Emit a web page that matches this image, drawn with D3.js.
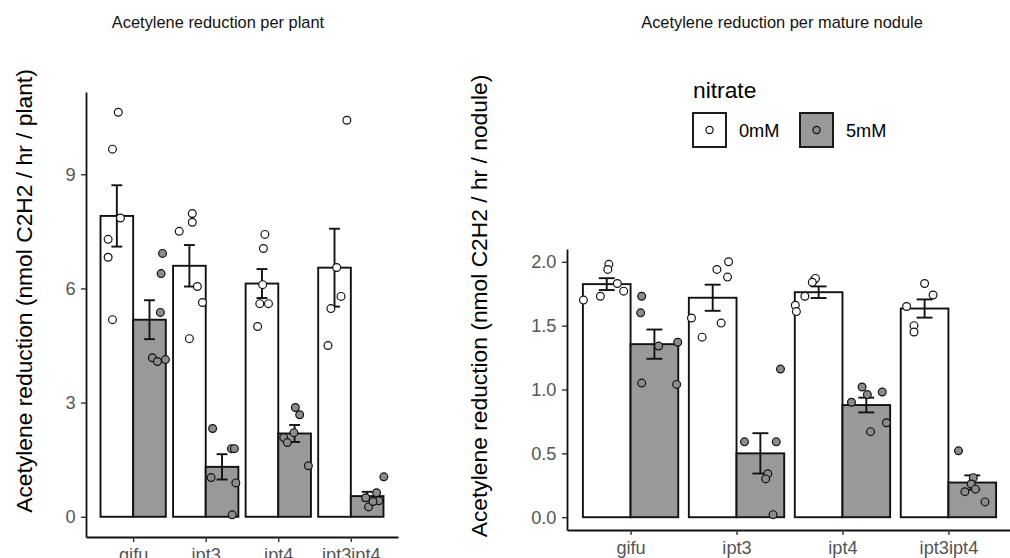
<!DOCTYPE html>
<html>
<head>
<meta charset="utf-8">
<script src="https://cdn.jsdelivr.net/npm/d3@7/dist/d3.min.js"></script>
<style>
  body { margin: 0; background: #fff; }
  text { font-family: "Liberation Sans", Arial, sans-serif; }
</style>
</head>
<body>
<div id="my_dataviz"></div>
<script>
// categories
var genotypes = ["gifu", "ipt3", "ipt4", "ipt3ipt4"];
var nitrate = ["0mM", "5mM"];

// acetylene reduction per plant, one list per genotype
var plant0mM = [
  [10.63, 9.66, 7.85, 7.29, 6.82, 5.18],
  [7.5, 7.97, 7.74, 6.05, 5.63, 4.68],
  [7.42, 7.05, 6.1, 5.6, 5.6, 5.0],
  [10.42, 6.55, 5.79, 5.47, 4.5]
];
var plant5mM = [
  [6.92, 6.39, 5.37, 4.18, 4.08, 4.13],
  [2.32, 1.79, 1.79, 1.03, 0.89, 0.05],
  [2.87, 2.68, 2.08, 1.95, 2.21, 1.34],
  [1.05, 0.63, 0.5, 0.42, 0.26, 0.4]
];
// horizontal jitter of each point, in category units
var plantJitter0mM = [
  [0.02, -0.06, 0.05, -0.12, -0.12, -0.06],
  [-0.14, 0.04, 0.04, 0.11, 0.18, 0],
  [0.04, 0.02, 0.01, -0.03, 0.09, -0.06],
  [0.17, 0.03, 0.09, -0.05, -0.09]
];
var plantJitter5mM = [
  [0.18, 0.16, 0.15, 0.04, 0.11, 0.22],
  [-0.13, 0.13, 0.17, -0.15, 0.19, 0.14],
  [0.01, 0.07, -0.15, -0.10, -0.01, 0.19],
  [0.23, 0.13, -0.02, 0.16, 0.02, 0.08]
];

// acetylene reduction per mature nodule
var nodule0mM = [
  [1.98, 1.94, 1.70, 1.73, 1.83, 1.77],
  [1.94, 2.0, 1.88, 1.56, 1.41, 1.52],
  [1.86, 1.87, 1.84, 1.73, 1.66, 1.61],
  [1.83, 1.74, 1.65, 1.5, 1.45]
];
var nodule5mM = [
  [1.73, 1.6, 1.34, 1.37, 1.05, 1.04],
  [1.16, 0.59, 0.59, 0.34, 0.3, 0.02],
  [1.02, 0.96, 0.98, 0.9, 0.74, 0.67],
  [0.52, 0.31, 0.26, 0.2, 0.22, 0.12]
];
var noduleJitter0mM = [
  [0.02, 0.01, -0.22, -0.06, 0.10, 0.16],
  [0.04, 0.15, 0.14, -0.20, -0.10, 0.08],
  [-0.04, -0.03, -0.06, -0.13, -0.22, -0.21],
  [0, 0.08, -0.17, -0.10, -0.10]
];
var noduleJitter5mM = [
  [-0.12, -0.13, 0.04, 0.22, -0.12, 0.21],
  [0.19, -0.15, 0.15, 0.07, 0.05, 0.12],
  [-0.04, 0.01, 0.15, -0.14, 0.19, 0.04],
  [-0.13, 0.01, -0.01, -0.07, 0.03, 0.12]
];

// tick labels
var plantTicks = [0, 3, 6, 9];
var noduleTicks = [0, 0.5, 1.0, 1.5, 2.0];

var barFill = d3.scaleOrdinal().domain(nitrate).range(["#ffffff", "#999999"]);
var pointFill = d3.scaleOrdinal().domain(nitrate).range(["#ffffff", "#8c8c8c"]);

var svg = d3.select("#my_dataviz")
  .append("svg")
  .attr("width", 1010)
  .attr("height", 558);

function drawPanel(p) {
  var g = svg.append("g");

  var x = d3.scalePoint()
    .domain(genotypes)
    .range(p.xRange)
    .padding(p.pad);
  var step = x.step();

  // dodge 0.9 wide, two bars
  var dodge = d3.scaleBand()
    .domain(nitrate)
    .range([-0.45 * step, 0.45 * step]);

  var rows = [];
  nitrate.forEach(function(n, ni) {
    genotypes.forEach(function(gt, gi) {
      var v = p.values[ni][gi];
      rows.push({
        geno: gt, nit: n, vals: v, jit: p.jitter[ni][gi],
        mean: d3.mean(v),
        se: d3.deviation(v) / Math.sqrt(v.length)
      });
    });
  });

  var ymax = d3.max(rows, function(d) { return d3.max(d.vals); });
  var y = d3.scaleLinear()
    .domain([-0.05 * ymax, 1.05 * ymax])
    .range(p.yRange);

  function cx(d) { return x(d.geno) + dodge(d.nit) + dodge.bandwidth() / 2; }

  // bars
  g.selectAll("rect.bar")
    .data(rows)
    .enter()
    .append("rect")
      .attr("class", "bar")
      .attr("x", function(d) { return x(d.geno) + dodge(d.nit); })
      .attr("width", dodge.bandwidth())
      .attr("y", function(d) { return y(d.mean); })
      .attr("height", function(d) { return y(0) - y(d.mean); })
      .attr("fill", function(d) { return barFill(d.nit); })
      .attr("stroke", "#111")
      .attr("stroke-width", 1.9);

  // error bars (mean +/- se)
  var capHalf = 0.075 * step;
  var eb = g.selectAll("g.eb")
    .data(rows)
    .enter()
    .append("g")
      .attr("class", "eb")
      .attr("stroke", "#111")
      .attr("stroke-width", 1.9);
  eb.append("line")
    .attr("x1", cx).attr("x2", cx)
    .attr("y1", function(d) { return y(d.mean + d.se); })
    .attr("y2", function(d) { return y(d.mean - d.se); });
  eb.append("line")
    .attr("x1", function(d) { return cx(d) - capHalf; })
    .attr("x2", function(d) { return cx(d) + capHalf; })
    .attr("y1", function(d) { return y(d.mean + d.se); })
    .attr("y2", function(d) { return y(d.mean + d.se); });
  eb.append("line")
    .attr("x1", function(d) { return cx(d) - capHalf; })
    .attr("x2", function(d) { return cx(d) + capHalf; })
    .attr("y1", function(d) { return y(d.mean - d.se); })
    .attr("y2", function(d) { return y(d.mean - d.se); });

  // jittered points
  var pts = [];
  rows.forEach(function(r) {
    r.vals.forEach(function(v, i) {
      pts.push({ geno: r.geno, nit: r.nit, v: v, j: r.jit[i] });
    });
  });
  g.selectAll("circle.pt")
    .data(pts)
    .enter()
    .append("circle")
      .attr("class", "pt")
      .attr("cx", function(d) { return cx(d) + d.j * step; })
      .attr("cy", function(d) { return y(d.v); })
      .attr("r", 3.9)
      .attr("fill", function(d) { return pointFill(d.nit); })
      .attr("stroke", "#111")
      .attr("stroke-width", 1.2);

  // axes
  var yAxis = g.append("g")
    .attr("transform", "translate(" + p.xRange[0] + ",0)")
    .call(d3.axisLeft(y).tickValues(p.ticks).tickFormat(p.fmt)
      .tickSize(5).tickSizeOuter(0).tickPadding(5.5));
  var xAxis = g.append("g")
    .attr("transform", "translate(0," + p.yRange[0] + ")")
    .call(d3.axisBottom(x).tickSize(5).tickSizeOuter(0).tickPadding(6.5));

  [yAxis, xAxis].forEach(function(a) {
    a.select(".domain").attr("stroke", "#111").attr("stroke-width", 1.8);
    a.selectAll(".tick line").attr("stroke", "#333").attr("stroke-width", 1.4);
    a.selectAll(".tick text")
      .style("font-size", "18.2px")
      .style("font-family", "'Liberation Sans', Arial, sans-serif")
      .attr("fill", "#555");
  });

  // y axis title
  svg.append("text")
    .attr("transform", "translate(" + p.ylabX + "," + p.ylabY + ") rotate(-90)")
    .attr("text-anchor", "middle")
    .style("font-size", "22.8px")
    .attr("fill", "#000")
    .text(p.ylab);

  // panel title
  svg.append("text")
    .attr("x", p.titleX)
    .attr("y", 28)
    .attr("text-anchor", "middle")
    .style("font-size", "16.4px")
    .attr("fill", "#111")
    .text(p.title);
}

drawPanel({
  values: [plant0mM, plant5mM],
  jitter: [plantJitter0mM, plantJitter5mM],
  ticks: plantTicks,
  fmt: d3.format("d"),
  xRange: [86, 398],
  pad: 0.65,
  yRange: [537, 92],
  ylab: "Acetylene reduction (nmol C2H2 / hr / plant)",
  ylabX: 32, ylabY: 291,
  title: "Acetylene reduction per plant",
  titleX: 218
});

drawPanel({
  values: [nodule0mM, nodule5mM],
  jitter: [noduleJitter0mM, noduleJitter5mM],
  ticks: noduleTicks,
  fmt: d3.format(".1f"),
  xRange: [567, 1012],
  pad: 0.6,
  yRange: [530, 249],
  ylab: "Acetylene reduction (nmol C2H2 / hr / nodule)",
  ylabX: 487, ylabY: 306,
  title: "Acetylene reduction per mature nodule",
  titleX: 782
});

// legend
var legend = svg.append("g").attr("transform", "translate(693,0)");
legend.append("text")
  .attr("x", 0)
  .attr("y", 98)
  .style("font-size", "22.8px")
  .attr("fill", "#000")
  .text("nitrate");

var keys = legend.selectAll("g.key")
  .data(nitrate)
  .enter()
  .append("g")
    .attr("class", "key")
    .attr("transform", function(d, i) { return "translate(" + (i * 107) + ",113)"; });
keys.append("rect")
  .attr("width", 33).attr("height", 34)
  .attr("fill", function(d) { return barFill(d); })
  .attr("stroke", "#111")
  .attr("stroke-width", 1.9);
keys.append("circle")
  .attr("cx", 16.5).attr("cy", 17).attr("r", 3.6)
  .attr("fill", function(d) { return pointFill(d); })
  .attr("stroke", "#111")
  .attr("stroke-width", 1.2);
keys.append("text")
  .attr("x", 46)
  .attr("y", 24)
  .style("font-size", "18.2px")
  .attr("fill", "#000")
  .text(function(d) { return d; });
</script>
</body>
</html>
